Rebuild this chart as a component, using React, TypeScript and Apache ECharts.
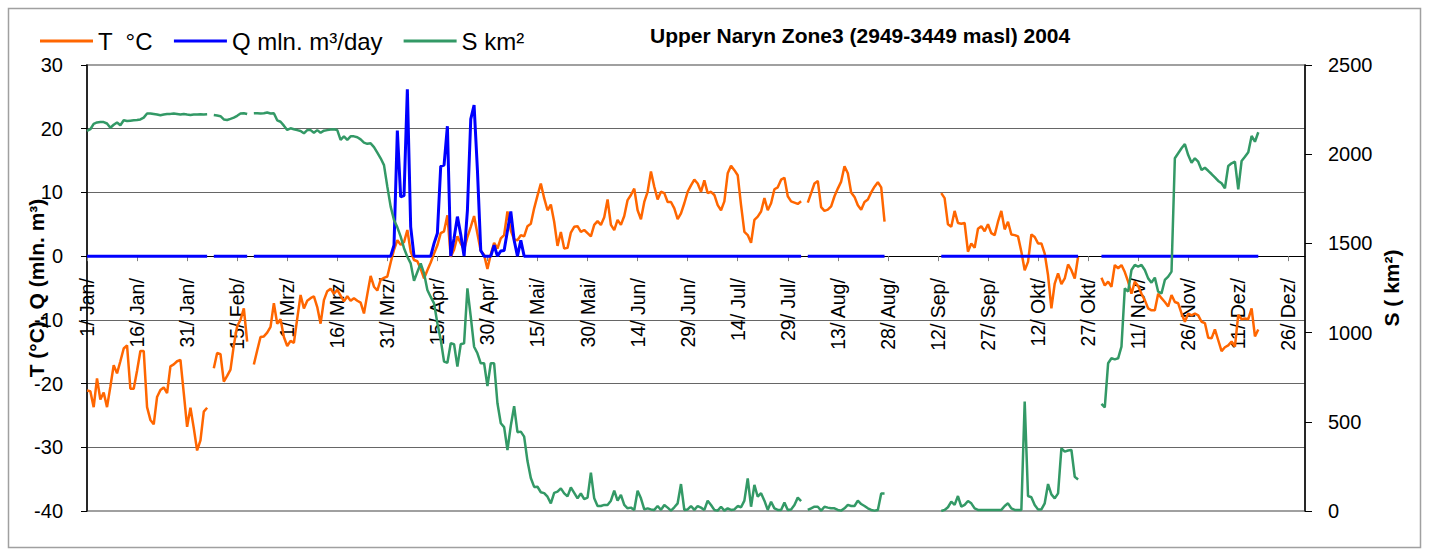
import React, { useEffect, useRef } from "react";
import * as echarts from "echarts";

const MONTHS = ["Jan", "Feb", "Mrz", "Apr", "Mai", "Jun", "Jul", "Aug", "Sep", "Okt", "Nov", "Dez"];
const MONTH_DAYS = [31, 29, 31, 30, 31, 30, 31, 31, 30, 31, 30, 31];
const CATEGORIES: string[] = MONTHS.flatMap((m, k) =>
  Array.from({ length: MONTH_DAYS[k] }, (_, d) => `${d + 1}/ ${m}/`)
);

const _ = null;

// Temperature, °C (daily)
const T_VALUES: (number | null)[] = [
  // Jan
  -21.1, -21.2, -23.7, -19.2, -22.5, -21.4, -23.7, -20.5, -17.1, -18.4, -16.5, -14.5, -14.0, -20.8, -20.8, -18.0,
  -14.9, -14.9, -23.7, -25.7, -26.4, -22.1, -21.0, -20.6, -21.5, -17.3, -17.0, -16.5, -16.3, -21.5, -26.8,
  // Feb
  -23.8, -27.0, -30.5, -28.9, -24.4, -23.8, _, -17.6, -15.2, -15.4, -19.7, -18.8, -17.8, -14.0, -11.0, -10.0,
  -8.2, -13.4, _, -17.0, -14.8, -12.7, -12.6, -12.0, -11.1, -7.4, -10.6, -9.9, -12.7,
  // Mrz
  -14.1, -13.3, -13.6, -9.8, -6.1, -8.2, -7.0, -6.6, -6.3, -8.0, -10.6, -6.9, -5.5, -5.1, -5.9, -5.3,
  -6.2, -7.1, -6.3, -7.0, -6.6, -7.0, -7.3, -9.0, -6.0, -3.1, -4.8, -5.4, -3.7, -3.4, -3.2,
  // Apr
  -1.0, 1.0, 2.5, 1.8, 2.2, 4.1, 0.7, -0.6, -0.8, -2.0, -3.5, -2.2, -1.0, 0.4, 1.7, 3.6,
  3.9, 6.4, -0.1, 1.0, 3.1, 2.0, 1.0, 3.0, 4.6, 6.3, 3.5, 0.8, 0.2, -2.0,
  // Mai
  0.3, 2.1, 1.2, 2.8, 3.3, 7.0, 4.0, 2.6, 2.5, 3.3, 3.1, 4.7, 5.1, 7.5, 9.5, 11.4,
  9.1, 7.2, 8.1, 5.4, 1.6, 3.8, 1.2, 1.3, 3.7, 4.6, 4.7, 3.8, 4.1, 3.6, 3.1,
  // Jun
  4.9, 5.5, 4.9, 6.1, 8.9, 4.9, 4.1, 5.7, 4.9, 6.3, 8.8, 9.6, 10.6, 7.2, 5.8, 8.5,
  10.1, 13.3, 10.9, 8.9, 10.1, 9.9, 8.5, 8.5, 7.5, 5.8, 6.7, 8.3, 10.1, 11.1,
  // Jul
  12.0, 11.4, 10.1, 11.9, 9.9, 10.1, 9.6, 8.0, 7.2, 8.6, 13.0, 14.2, 13.5, 12.7, 8.0, 3.8,
  3.3, 2.1, 5.7, 6.2, 7.0, 9.1, 7.2, 8.3, 10.5, 10.8, 12.0, 12.3, 9.4, 8.6, 8.4,
  // Aug
  8.2, 8.6, _, 8.4, 9.9, 11.4, 11.8, 7.7, 7.1, 7.3, 7.8, 9.4, 10.6, 11.7, 14.1, 13.0,
  10.0, 9.3, 8.0, 7.3, 8.5, 8.9, 10.0, 10.9, 11.6, 10.8, 5.4, _, _, _, _,
  // Sep
  _, _, _, _, _, _, _, _, _, _, _, _, 9.9, 9.1, 5.0, 4.6,
  7.1, 5.2, 5.1, 5.2, 0.7, 2.0, 1.3, 4.3, 4.7, 3.9, 5.0, 3.6, 3.3, 5.4,
  // Okt
  7.1, 4.2, 5.4, 3.4, 3.3, 3.1, 0.7, -2.2, -0.9, 3.4, 3.0, 2.0, 2.0, 0.4, -3.0, -8.2,
  -4.3, -2.7, -4.4, -3.5, -1.3, -2.2, -3.5, -0.1, _, _, _, _, _, _, -3.4,
  // Nov
  -4.6, -4.0, -4.8, -1.4, -1.9, -1.4, -2.5, -4.0, -5.9, -4.0, -4.7, -5.9, -6.9, -8.2, -8.5, -8.5,
  -5.9, -6.6, -7.2, -7.9, -6.1, -7.2, -7.4, -9.0, -10.3, -9.0, -9.3, -9.0, -9.3, -10.3,
  // Dez
  -10.5, -12.8, -12.9, -11.5, -13.2, -14.9, -14.3, -14.0, -13.4, -14.2, -9.2, -9.9, -9.8, -9.9, -8.2, -12.6,
  -11.5, _, _, _, _, _, _, _, _, _, _, _, _, _, _,
];

// Discharge, mln. m³/day (daily)
const Q_VALUES: (number | null)[] = [
  // Jan
  0, 0, 0, 0, 0, 0, 0, 0, 0, 0, 0, 0, 0, 0, 0, 0,
  0, 0, 0, 0, 0, 0, 0, 0, 0, 0, 0, 0, 0, 0, 0,
  // Feb
  0, 0, 0, 0, 0, 0, _, 0, 0, 0, 0, 0, 0, 0, 0, 0,
  0, 0, _, 0, 0, 0, 0, 0, 0, 0, 0, 0, 0,
  // Mrz
  0, 0, 0, 0, 0, 0, 0, 0, 0, 0, 0, 0, 0, 0, 0, 0,
  0, 0, 0, 0, 0, 0, 0, 0, 0, 0, 0, 0, 0, 0, 0,
  // Apr
  0, 1.7, 19.7, 9.3, 9.5, 26.2, 4.6, 0, 0, 0, 0, 0, 0, 2.0, 3.6, 14.1,
  14.3, 20.4, 0, 2.8, 6.2, 3.4, 0, 7.2, 21.5, 23.7, 13.5, 0.9, 0, 0,
  // Mai
  0, 1.7, 0, 0.8, 0.9, 4.0, 7.0, 2.5, 0, 2.5, 0, 0, 0, 0, 0, 0,
  0, 0, 0, 0, 0, 0, 0, 0, 0, 0, 0, 0, 0, 0, 0,
  // Jun
  0, 0, 0, 0, 0, 0, 0, 0, 0, 0, 0, 0, 0, 0, 0, 0,
  0, 0, 0, 0, 0, 0, 0, 0, 0, 0, 0, 0, 0, 0,
  // Jul
  0, 0, 0, 0, 0, 0, 0, 0, 0, 0, 0, 0, 0, 0, 0, 0,
  0, 0, 0, 0, 0, 0, 0, 0, 0, 0, 0, 0, 0, 0, 0,
  // Aug
  0, 0, _, 0, 0, 0, 0, 0, 0, 0, 0, 0, 0, 0, 0, 0,
  0, 0, 0, 0, 0, 0, 0, 0, 0, 0, 0, _, _, _, _,
  // Sep
  _, _, _, _, _, _, _, _, _, _, _, _, 0, 0, 0, 0,
  0, 0, 0, 0, 0, 0, 0, 0, 0, 0, 0, 0, 0, 0,
  // Okt
  0, 0, 0, 0, 0, 0, 0, 0, 0, 0, 0, 0, 0, 0, 0, 0,
  0, 0, 0, 0, 0, 0, 0, 0, _, _, _, _, _, _, 0,
  // Nov
  0, 0, 0, 0, 0, 0, 0, 0, 0, 0, 0, 0, 0, 0, 0, 0,
  0, 0, 0, 0, 0, 0, 0, 0, 0, 0, 0, 0, 0, 0,
  // Dez
  0, 0, 0, 0, 0, 0, 0, 0, 0, 0, 0, 0, 0, 0, 0, 0,
  0, _, _, _, _, _, _, _, _, _, _, _, _, _, _,
];

// Snow covered area, km² (daily)
const S_VALUES: (number | null)[] = [
  // Jan
  2130, 2140, 2170, 2178, 2180, 2180, 2172, 2148, 2165, 2178, 2162, 2190, 2186, 2188, 2190, 2192,
  2195, 2205, 2228, 2228, 2225, 2222, 2218, 2222, 2225, 2226, 2228, 2225, 2222, 2225, 2222,
  // Feb
  2220, 2222, 2223, 2224, 2223, 2224, _, 2220, 2217, 2213, 2195, 2192, 2198, 2205, 2215, 2228,
  2230, 2225, _, 2229, 2230, 2228, 2230, 2234, 2228, 2230, 2190, 2182, 2160,
  // Mrz
  2136, 2145, 2140, 2135, 2130, 2117, 2135, 2135, 2120, 2135, 2120, 2132, 2135, 2138, 2140, 2135,
  2080, 2100, 2080, 2100, 2100, 2095, 2083, 2065, 2058, 2061, 2040, 2009, 1977, 1939, 1818,
  // Apr
  1706, 1631, 1590, 1538, 1473, 1425, 1388, 1290, 1340, 1388, 1332, 1239, 1200, 1164, 1052, 960,
  837, 831, 940, 935, 809, 935, 940, 1248, 1089, 921, 884, 828, 828, 700,
  // Mai
  828, 828, 604, 492, 470, 342, 478, 587, 442, 445, 417, 280, 185, 135, 136, 105,
  100, 80, 43, 102, 109, 127, 99, 82, 132, 102, 71, 98, 67, 75, 215,
  // Jun
  71, 28, 28, 34, 34, 58, 114, 58, 90, 34, 15, 19, 6, 114, 71, 9,
  15, 9, 6, 28, 6, 34, 19, 2, 21, 43, 151, 6, 9, 28,
  // Jul
  6, 28, 19, 6, 58, 34, 6, 2, 24, 2, 15, 6, 9, 28, 21, 58,
  183, 24, 146, 80, 100, 58, 6, 52, 15, 6, 6, 47, 6, 9, 34,
  // Aug
  75, 56, _, 6, 15, 24, 24, 2, 24, 19, 15, 15, 6, 2, 15, 34,
  28, 28, 58, 39, 28, 15, 6, 2, 6, 98, 98, _, _, _, _,
  // Sep
  _, _, _, _, _, _, _, _, _, _, _, _, 0, 6, 21, 52,
  34, 84, 24, 34, 56, 43, 15, 6, 6, 6, 6, 6, 6, 6,
  // Okt
  6, 28, 43, 15, 6, 6, 6, 613, 84, 77, 34, 9, 9, 43, 151, 93,
  71, 99, 351, 333, 339, 342, 192, 177, _, _, _, _, _, _, 600,
  // Nov
  581, 828, 856, 850, 856, 921, 1248, 1230, 1351, 1379, 1370, 1379, 1351, 1304, 1280, 1308,
  1229, 1220, 1295, 1314, 1342, 1977, 2005, 2033, 2057, 1995, 1952, 1977, 1958, 1911,
  // Dez
  1924, 1907, 1889, 1870, 1850, 1837, 1809, 1934, 1949, 1958, 1803, 1962, 1986, 2011, 2102, 2070,
  2123, _, _, _, _, _, _, _, _, _, _, _, _, _, _,
];

const T_TICKS = { min: -40, max: 30, interval: 10 };
const S_TICKS = { min: 0, max: 2500, interval: 500 };

const TITLE = "Upper Naryn Zone3 (2949-3449 masl) 2004";
const SERIES_NAMES = ["T  °C", "Q mln. m³/day", "S km²"];
const LEFT_AXIS_NAME = "T (°C), Q (mln. m³)";
const RIGHT_AXIS_NAME = "S ( km²)";

const FONT = "'Liberation Sans', Arial, Helvetica, sans-serif";

// plot geometry (pixels)
const GRID_TOP = 65;
const GRID_BOTTOM = 45;
const CHART_H = 556;

export default function App() {
  const ref = useRef<HTMLDivElement>(null);

  useEffect(() => {
    if (!ref.current) return;
    const chart = echarts.init(ref.current, null, { renderer: "svg" });
    const plotH = CHART_H - GRID_TOP - GRID_BOTTOM;
    // distance from plot bottom up to the zero line of the left axis
    const zeroOffset = (plotH * (0 - T_TICKS.min)) / (T_TICKS.max - T_TICKS.min);
    const option: any = {
      animation: false,
      backgroundColor: "#ffffff",
      textStyle: { fontFamily: FONT, color: "#000" },
      title: {
        text: TITLE,
        left: 650,
        top: 25,
        padding: 0,
        textStyle: { fontFamily: FONT, fontSize: 21, fontWeight: "bold", color: "#000" },
      },
      legend: {
        left: 40,
        top: 29,
        padding: 0,
        itemWidth: 53,
        itemHeight: 3,
        itemGap: 21,
        icon: "rect",
        data: SERIES_NAMES,
        textStyle: { fontFamily: FONT, fontSize: 24, color: "#000" },
      },
      grid: {
        left: 87,
        right: 124,
        top: GRID_TOP,
        bottom: GRID_BOTTOM,
        show: true,
        borderColor: "#a0a0a0",
        borderWidth: 2,
        containLabel: false,
        outerBoundsMode: "none",
      },
      xAxis: {
        type: "category",
        data: CATEGORIES,
        boundaryGap: false,
        position: "bottom",
        offset: -zeroOffset,
        axisLine: { onZero: false, lineStyle: { color: "#000", width: 1 } },
        axisTick: { show: true, interval: 14, length: 5, lineStyle: { color: "#808080", width: 1 } },
        axisLabel: {
          interval: 14,
          rotate: 90,
          margin: 22,
          fontSize: 19.5,
          fontFamily: FONT,
          color: "#000",
        },
        splitLine: { show: false },
      },
      yAxis: [
        {
          type: "value",
          position: "left",
          min: T_TICKS.min,
          max: T_TICKS.max,
          interval: T_TICKS.interval,
          axisLine: { show: true, onZero: false, lineStyle: { color: "#000", width: 1.5 } },
          axisTick: { show: true, length: 6, lineStyle: { color: "#000" } },
          axisLabel: { fontSize: 20, margin: 24, fontFamily: FONT, color: "#000", formatter: (v: number) => String(v) },
          splitLine: {
            show: true,
            showMinLine: false,
            showMaxLine: false,
            lineStyle: { color: "#666", width: 1 },
          },
        },
        {
          type: "value",
          position: "right",
          min: S_TICKS.min,
          max: S_TICKS.max,
          interval: S_TICKS.interval,
          axisLine: { show: true, onZero: false, lineStyle: { color: "#000", width: 1.5 } },
          axisTick: { show: true, length: 7, lineStyle: { color: "#000" } },
          axisLabel: { fontSize: 20, margin: 23, fontFamily: FONT, color: "#000", formatter: (v: number) => String(v) },
          splitLine: { show: false },
        },
      ],
      graphic: [
        {
          type: "rect",
          silent: true,
          z: -10,
          shape: { x: 8.5, y: 8.5, width: 1412, height: 539 },
          style: { fill: "none", stroke: "#a0a0a0", lineWidth: 1.5 },
        },
        {
          type: "text",
          silent: true,
          x: 36,
          y: 288,
          rotation: Math.PI / 2,
          style: {
            text: LEFT_AXIS_NAME,
            font: `bold 21px ${FONT}`,
            fill: "#000",
            align: "center",
            verticalAlign: "middle",
          },
        },
        {
          type: "text",
          silent: true,
          x: 1391,
          y: 288,
          rotation: Math.PI / 2,
          style: {
            text: RIGHT_AXIS_NAME,
            font: `bold 21px ${FONT}`,
            fill: "#000",
            align: "center",
            verticalAlign: "middle",
          },
        },
      ],
      series: [
        {
          name: SERIES_NAMES[0],
          type: "line",
          yAxisIndex: 0,
          data: T_VALUES,
          symbol: "none",
          showSymbol: false,
          connectNulls: false,
          lineStyle: { color: "#FF6600", width: 2.5 },
          itemStyle: { color: "#FF6600" },
          z: 2,
        },
        {
          name: SERIES_NAMES[1],
          type: "line",
          yAxisIndex: 0,
          data: Q_VALUES,
          symbol: "none",
          showSymbol: false,
          connectNulls: false,
          lineStyle: { color: "#0000FF", width: 3 },
          itemStyle: { color: "#0000FF" },
          z: 3,
        },
        {
          name: SERIES_NAMES[2],
          type: "line",
          yAxisIndex: 1,
          data: S_VALUES,
          symbol: "none",
          showSymbol: false,
          connectNulls: false,
          lineStyle: { color: "#339966", width: 2.5 },
          itemStyle: { color: "#339966" },
          z: 4,
        },
      ],
    };
    chart.setOption(option);
    return () => chart.dispose();
  }, []);

  return (
    <div
      ref={ref}
      style={{ position: "fixed", left: 0, top: 0, width: 1429, height: 556, background: "#fff" }}
    />
  );
}
